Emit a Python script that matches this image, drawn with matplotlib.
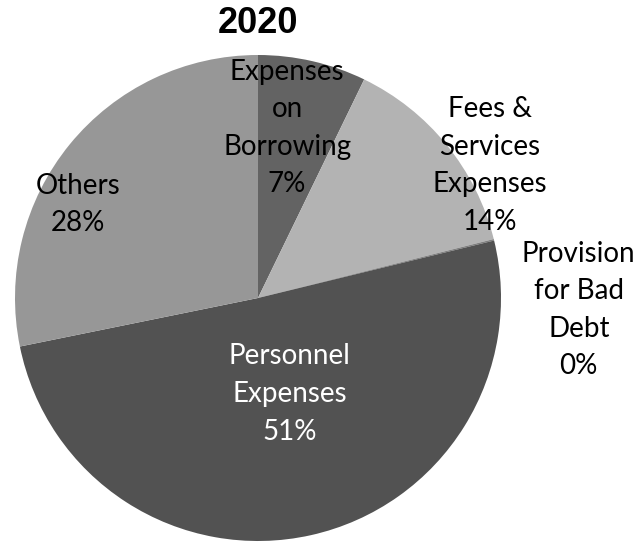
import matplotlib
matplotlib.use("Agg")
import matplotlib.pyplot as plt

categories = ["Expenses\non\nBorrowing", "Fees &\nServices\nExpenses",
              "Provision\nfor Bad\nDebt", "Personnel\nExpenses", "Others"]
shares = [7.2, 13.9, 0.1, 50.6, 28.2]
slice_colors = ["#636363", "#b3b3b3", "#7f7f7f", "#525252", "#979797"]
text_colors = ["black", "black", "black", "white", "black"]

# label centres in data units (pie radius = 1), picked to match the chart
label_pos = [(0.12, 0.70), (0.955, 0.545), (1.32, -0.05), (0.13, -0.395), (-0.74, 0.385)]

fig = plt.figure(figsize=(6.38, 5.44), dpi=100)
ax = fig.add_axes([0, 0, 1, 1])

wedges, _ = ax.pie(shares, colors=slice_colors, startangle=90, counterclock=False,
                   radius=1, center=(0, 0), wedgeprops=dict(linewidth=0))

for name, val, pos, col in zip(categories, shares, label_pos, text_colors):
    ax.text(pos[0], pos[1], "%s\n%d%%" % (name, round(val)), ha="center", va="center",
            fontsize=20, family="Lato", color=col, linespacing=1.55)

ax.text(0, 1.13, "2020", ha="center", va="center", fontsize=26,
        fontweight="bold", family="Liberation Sans")

ax.set_xlim(-258 / 243, (638 - 258) / 243)
ax.set_ylim((298 - 544) / 243, 298 / 243)
ax.set_aspect("equal")
ax.axis("off")

fig.savefig("out.png", dpi=100)
